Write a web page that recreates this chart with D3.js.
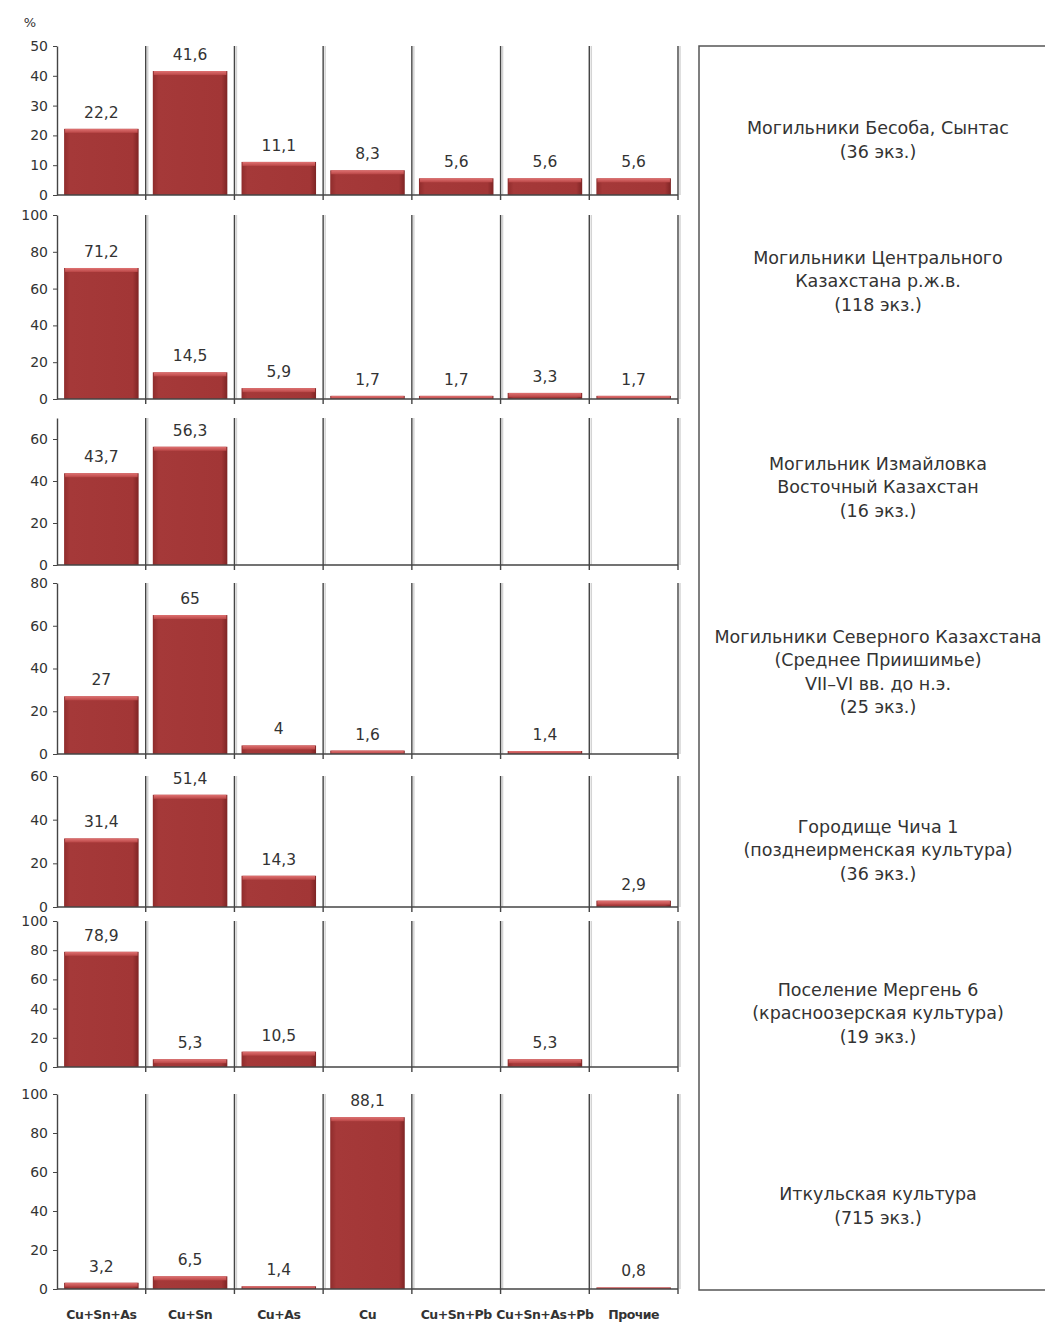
<!DOCTYPE html>
<html>
<head>
<meta charset="utf-8">
<script src="https://cdn.jsdelivr.net/npm/d3@7"></script>
<style>
  body { margin: 0; background: #fff; }
  svg { display: block; font-family: "DejaVu Sans", sans-serif; }
</style>
</head>
<body>
<script>
/* data */
const categories = ["Cu+Sn+As", "Cu+Sn", "Cu+As", "Cu", "Cu+Sn+Pb", "Cu+Sn+As+Pb", "Прочие"];

const besoba   = [22.2, 41.6, 11.1, 8.3, 5.6, 5.6, 5.6];
const central  = [71.2, 14.5, 5.9, 1.7, 1.7, 3.3, 1.7];
const izmail   = [43.7, 56.3, null, null, null, null, null];
const north    = [27, 65, 4, 1.6, null, 1.4, null];
const chicha   = [31.4, 51.4, 14.3, null, null, null, 2.9];
const mergen   = [78.9, 5.3, 10.5, null, null, 5.3, null];
const itkul    = [3.2, 6.5, 1.4, 88.1, null, null, 0.8];

const seriesValues = [besoba, central, izmail, north, chicha, mergen, itkul];

const yMax   = [50, 100, 70, 80, 60, 100, 100];
const yStep  = [10, 20, 20, 20, 20, 20, 20];

const groupLabels = [
  ["Могильники Бесоба, Сынтас", "(36 экз.)"],
  ["Могильники Центрального", "Казахстана р.ж.в.", "(118 экз.)"],
  ["Могильник Измайловка", "Восточный Казахстан", "(16 экз.)"],
  ["Могильники Северного Казахстана", "(Среднее Приишимье)", "VII–VI вв. до н.э.", "(25 экз.)"],
  ["Городище Чича 1", "(позднеирменская культура)", "(36 экз.)"],
  ["Поселение Мергень 6", "(красноозерская культура)", "(19 экз.)"],
  ["Иткульская культура", "(715 экз.)"]
];
/* data */

/* layout */
let width = 1045;
let height = 1324;
let left = 57, right = 678;
let panelTop    = [46, 215, 418, 583, 776, 921, 1094];
let panelBottom = [195, 399, 565, 754, 907, 1067, 1289];
let labelCenter = [140, 281, 487, 672, 850, 1013, 1206];
let boxX = 699, textX = 878, lineGap = 23.5;

let svg = d3.select("body").append("svg")
  .attr("width", width)
  .attr("height", height);

let defs = svg.append("defs");
let grad = defs.append("linearGradient")
  .attr("id", "barGrad")
  .attr("x1", 0).attr("y1", 0).attr("x2", 1).attr("y2", 0);
grad.append("stop").attr("offset", "0%").attr("stop-color", "#8f2c2c");
grad.append("stop").attr("offset", "8%").attr("stop-color", "#a53939");
grad.append("stop").attr("offset", "92%").attr("stop-color", "#a23636");
grad.append("stop").attr("offset", "100%").attr("stop-color", "#7e2424");

let hlGrad = defs.append("linearGradient")
  .attr("id", "hlGrad")
  .attr("x1", 0).attr("y1", 0).attr("x2", 0).attr("y2", 1);
hlGrad.append("stop").attr("offset", "0%").attr("stop-color", "#e07272");
hlGrad.append("stop").attr("offset", "100%").attr("stop-color", "#b94646");

let xCell = d3.scaleBand().domain(categories).range([left, right]).padding(0);
let xBar = d3.scaleBand().domain(categories).range([left, right])
  .paddingInner(0.16).paddingOuter(0.08);

let fmt = v => String(v).replace(".", ",");

svg.append("text")
  .attr("x", 30).attr("y", 27)
  .attr("text-anchor", "middle")
  .attr("font-size", 13)
  .attr("fill", "#333")
  .text("%");

seriesValues.forEach(function(values, i) {
  let y = d3.scaleLinear()
    .domain([0, yMax[i]])
    .range([panelBottom[i], panelTop[i]]);

  let g = svg.append("g").attr("class", "panel");

  /* separators between categories */
  g.selectAll("line.sepShade")
    .data(categories)
    .enter().append("line")
    .attr("class", "sepShade")
    .attr("x1", d => xCell(d) + xCell.bandwidth() + 2)
    .attr("x2", d => xCell(d) + xCell.bandwidth() + 2)
    .attr("y1", y(yMax[i]))
    .attr("y2", y(0))
    .attr("stroke", "#d4d4d4")
    .attr("stroke-width", 1.5);

  g.selectAll("line.sep")
    .data(categories)
    .enter().append("line")
    .attr("class", "sep")
    .attr("x1", d => xCell(d) + xCell.bandwidth())
    .attr("x2", d => xCell(d) + xCell.bandwidth())
    .attr("y1", y(yMax[i]))
    .attr("y2", y(0) + 5)
    .attr("stroke", "#444")
    .attr("stroke-width", 1.4);

  /* bars */
  let rows = categories.map((c, k) => ({ c: c, v: values[k] })).filter(d => d.v !== null);

  g.selectAll("rect.bar")
    .data(rows)
    .enter().append("rect")
    .attr("class", "bar")
    .attr("x", d => xBar(d.c))
    .attr("y", d => y(d.v))
    .attr("width", xBar.bandwidth())
    .attr("height", d => y(0) - y(d.v))
    .attr("fill", "url(#barGrad)");

  g.selectAll("rect.hl")
    .data(rows)
    .enter().append("rect")
    .attr("class", "hl")
    .attr("x", d => xBar(d.c) + 1)
    .attr("y", d => y(d.v))
    .attr("width", xBar.bandwidth() - 2)
    .attr("height", d => Math.min(4, y(0) - y(d.v)))
    .attr("fill", "url(#hlGrad)");

  g.selectAll("text.val")
    .data(rows)
    .enter().append("text")
    .attr("class", "val")
    .attr("x", d => xBar(d.c) + xBar.bandwidth() / 2)
    .attr("y", d => y(d.v) - 11)
    .attr("text-anchor", "middle")
    .attr("font-size", 15.5)
    .attr("fill", "#333")
    .text(d => fmt(d.v));

  /* baseline */
  g.append("line")
    .attr("x1", left).attr("x2", right)
    .attr("y1", y(0)).attr("y2", y(0))
    .attr("stroke", "#444")
    .attr("stroke-width", 1.4);

  /* y axis */
  let axisY = d3.axisLeft(y)
    .tickValues(d3.range(0, yMax[i] + 1, yStep[i]).filter(t => t <= yMax[i] && (i != 2 || t < 70)))
    .tickSize(4)
    .tickSizeOuter(0)
    .tickPadding(5);

  let ay = g.append("g")
    .attr("transform", "translate(" + left + ",0)")
    .call(axisY);
  ay.select(".domain").attr("stroke", "#444").attr("stroke-width", 1.4);
  ay.selectAll(".tick line").attr("stroke", "#444");
  ay.selectAll(".tick text")
    .attr("font-size", 14)
    .attr("font-family", "DejaVu Sans, sans-serif")
    .attr("fill", "#333");

  /* group label */
  let lines = groupLabels[i];
  let t0 = labelCenter[i] - (lines.length - 1) * lineGap / 2;
  svg.append("g").selectAll("text")
    .data(lines)
    .enter().append("text")
    .attr("x", textX)
    .attr("y", (d, k) => t0 + k * lineGap + 6)
    .attr("text-anchor", "middle")
    .attr("font-size", 17.5)
    .attr("fill", "#333")
    .text(d => d);
});

/* category labels */
svg.append("g").selectAll("text")
  .data(categories)
  .enter().append("text")
  .attr("x", d => xCell(d) + xCell.bandwidth() / 2)
  .attr("y", 1319)
  .attr("text-anchor", "middle")
  .attr("font-size", 12.5)
  .attr("font-weight", "bold")
  .attr("letter-spacing", "-0.5")
  .attr("fill", "#333")
  .text(d => d);

/* frame for legends */
svg.append("rect")
  .attr("x", boxX)
  .attr("y", panelTop[0])
  .attr("width", 400)
  .attr("height", panelBottom[6] - panelTop[0] + 1)
  .attr("fill", "none")
  .attr("stroke", "#555")
  .attr("stroke-width", 1.5);
</script>
</body>
</html>
